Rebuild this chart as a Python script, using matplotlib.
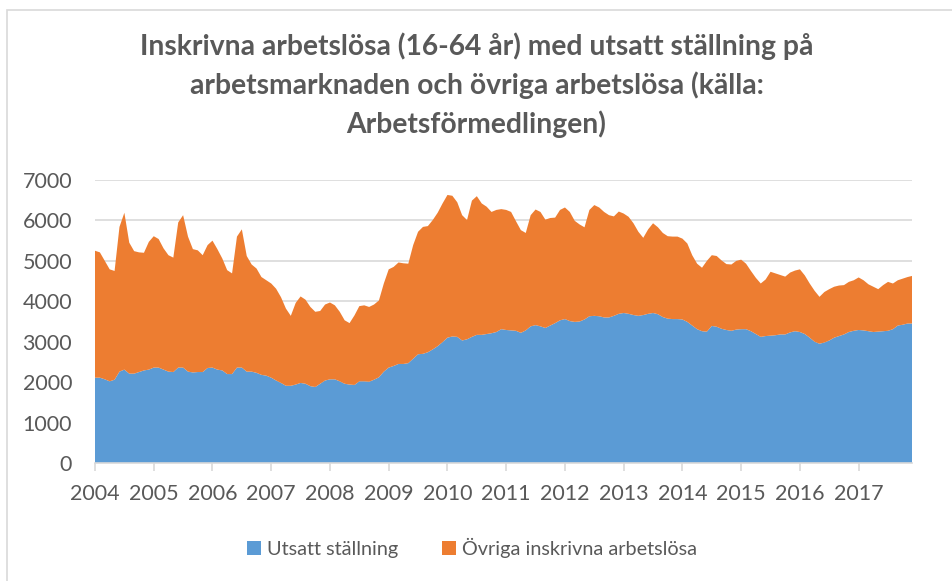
"""Stacked area chart: inskrivna arbetslösa med utsatt ställning och övriga."""

import matplotlib

matplotlib.use("Agg")

from matplotlib import pyplot as plt  # noqa: E402
from matplotlib.patches import Rectangle  # noqa: E402

TITLE = (
    "Inskrivna arbetslösa (16-64 år) med utsatt ställning på\n"
    "arbetsmarknaden och övriga arbetslösa (källa:\n"
    "Arbetsförmedlingen)"
)
YEAR_LABELS = [str(y) for y in range(2004, 2018)]

# monthly values, Jan 2004 - Dec 2017
UTSATT = [
    2110, 2110, 2070, 2020, 2060, 2260, 2310, 2210, 2210, 2250, 2290, 2310,
    2360, 2360, 2310, 2260, 2250, 2360, 2360, 2260, 2240, 2250, 2250, 2350,
    2360, 2310, 2290, 2200, 2200, 2360, 2360, 2260, 2260, 2230, 2180, 2160,
    2110, 2040, 1980, 1910, 1910, 1940, 1980, 1960, 1900, 1880, 1960, 2040,
    2070, 2070, 2020, 1960, 1940, 1930, 2020, 2020, 2010, 2060, 2120, 2260,
    2360, 2400, 2450, 2450, 2470, 2580, 2690, 2700, 2740, 2810, 2890, 2990,
    3100, 3130, 3120, 3030, 3060, 3120, 3170, 3170, 3190, 3210, 3240, 3310,
    3290, 3280, 3270, 3220, 3280, 3380, 3410, 3380, 3340, 3400, 3460, 3530,
    3560, 3510, 3490, 3500, 3550, 3630, 3640, 3630, 3600, 3600, 3640, 3690,
    3710, 3690, 3660, 3640, 3660, 3690, 3710, 3680, 3610, 3570, 3560, 3560,
    3550, 3490, 3400, 3310, 3260, 3250, 3390, 3370, 3320, 3290, 3270, 3300,
    3310, 3310, 3260, 3190, 3120, 3140, 3150, 3160, 3180, 3180, 3230, 3260,
    3240, 3190, 3100, 3000, 2950, 2980, 3030, 3100, 3140, 3180, 3240, 3270,
    3290, 3280, 3260, 3240, 3250, 3260, 3270, 3310, 3400, 3420, 3450, 3450,
]
OVRIGA = [
    3140, 3100, 2930, 2770, 2690, 3580, 3880, 3240, 3030, 2960, 2910, 3160,
    3250, 3180, 3000, 2880, 2830, 3590, 3770, 3340, 3050, 3010, 2890, 3040,
    3140, 2980, 2770, 2570, 2490, 3240, 3420, 2860, 2650, 2580, 2420, 2360,
    2330, 2270, 2120, 1910, 1730, 2020, 2140, 2080, 1960, 1860, 1800, 1880,
    1900, 1830, 1720, 1570, 1520, 1720, 1860, 1880, 1850, 1860, 1900, 2180,
    2430, 2450, 2510, 2490, 2460, 2810, 3030, 3140, 3120, 3200, 3300, 3430,
    3530, 3480, 3330, 3100, 2950, 3370, 3430, 3250, 3150, 3000, 3020, 2970,
    2970, 2930, 2710, 2540, 2410, 2750, 2860, 2830, 2680, 2660, 2610, 2730,
    2760, 2700, 2500, 2400, 2280, 2630, 2740, 2690, 2610, 2530, 2460, 2530,
    2460, 2400, 2270, 2080, 1910, 2090, 2220, 2150, 2080, 2040, 2040, 2040,
    2000, 1940, 1740, 1620, 1570, 1750, 1750, 1750, 1690, 1630, 1640, 1700,
    1720, 1620, 1490, 1390, 1320, 1400, 1580, 1530, 1470, 1430, 1480, 1500,
    1550, 1450, 1340, 1260, 1160, 1250, 1270, 1260, 1250, 1220, 1240, 1250,
    1300, 1240, 1160, 1120, 1050, 1140, 1210, 1130, 1120, 1140, 1150, 1180,
]
SERIES_NAMES = ["Utsatt ställning", "Övriga inskrivna arbetslösa"]
COLORS = ["#5B9BD5", "#ED7D31"]
TEXT_COLOR = "#595959"
GRID_COLOR = "#D9D9D9"

plt.rcParams["font.family"] = ["Lato", "DejaVu Sans"]

fig = plt.figure(figsize=(9.53, 5.81), dpi=100)
fig.patches.append(
    Rectangle((7 / 953, -0.1), 1.2, 1.1 - 10 / 581, transform=fig.transFigure,
              fill=False, edgecolor=GRID_COLOR, linewidth=1.2)
)
ax = fig.add_axes([95 / 953, 118 / 581, (912.5 - 95) / 953, 283 / 581])

months = list(range(len(UTSATT)))
ax.stackplot(months, UTSATT, OVRIGA, colors=COLORS, labels=SERIES_NAMES,
             linewidth=0)

ax.set_xlim(0, len(months) - 1)
ax.set_ylim(0, 7000)
ax.set_yticks(range(0, 7001, 1000))
ax.set_xticks(range(0, len(months), 12))
ax.set_xticklabels(YEAR_LABELS)
ax.grid(axis="y", color=GRID_COLOR, linewidth=1.2)
ax.set_axisbelow(True)
for side in ("top", "right", "left"):
    ax.spines[side].set_visible(False)
ax.spines["bottom"].set_color(GRID_COLOR)
ax.spines["bottom"].set_linewidth(1.2)
ax.tick_params(axis="x", colors=GRID_COLOR, length=6, width=1.2,
               labelcolor=TEXT_COLOR, labelsize=15.5, pad=9)
ax.tick_params(axis="y", length=0, labelcolor=TEXT_COLOR, labelsize=15.5,
               pad=16.5)

fig.text(0.5, 1 - 32 / 581, TITLE, ha="center", va="top", fontsize=20.3,
         fontweight="bold", color=TEXT_COLOR, linespacing=1.52)

fig.legend(loc="center", bbox_to_anchor=(472 / 953, 1 - 548 / 581), ncol=2,
           frameon=False, fontsize=14.3, labelcolor=TEXT_COLOR,
           handlelength=0.7, handleheight=0.7, handletextpad=0.3,
           columnspacing=2.2)

fig.savefig("out.png", dpi=100)
